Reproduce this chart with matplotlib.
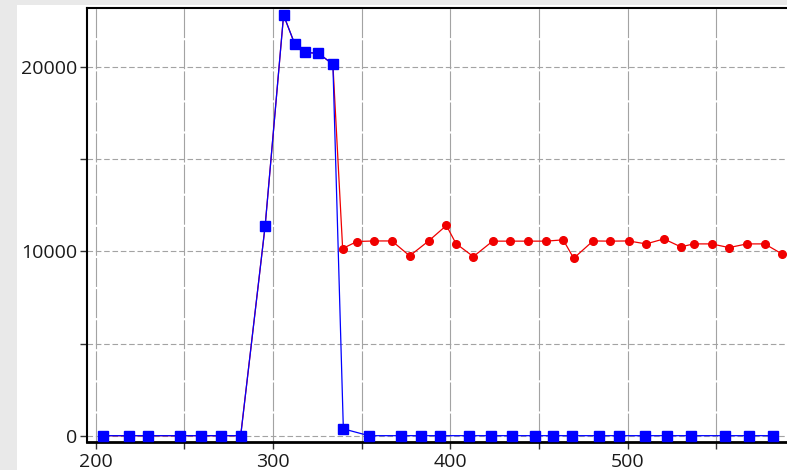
import matplotlib.pyplot as plt
from matplotlib.patches import Rectangle
from matplotlib.ticker import MultipleLocator

plt.rcParams['font.family'] = ['Open Sans', 'DejaVu Sans']

# shared rising part, then the two series split
blue_x = [204.3, 219.0, 229.7, 247.5, 259.2, 270.7, 281.8, 295.6, 306.0, 312.2, 318.0, 325.6, 333.8,
          339.7, 354.1, 372.2, 383.5, 394.2, 410.8, 422.8, 434.6, 447.8, 458.1, 468.8,
          484.0, 495.3, 510.0, 522.0, 535.9, 555.1, 568.5, 582.2]
blue_y = [0, 0, 0, 0, 0, 0, 0, 11390, 22830, 21280, 20800, 20760, 20160,
          370, 0, 0, 0, 0, 0, 0, 0, 0, 0, 0,
          0, 0, 0, 0, 0, 0, 0, 0]

red_x = [204.3, 219.0, 229.7, 247.5, 259.2, 270.7, 281.8, 295.6, 306.0, 312.2, 318.0, 325.6, 333.8,
         339.3, 347.4, 357.1, 367.1, 377.1, 387.8, 397.8, 403.2, 413.0, 423.9, 433.7, 444.0, 454.0,
         463.7, 469.6, 480.5, 490.2, 500.6, 510.4, 520.5, 530.0, 537.3, 547.4, 557.2, 567.3, 577.3, 587.2]
red_y = [0, 0, 0, 0, 0, 0, 0, 11390, 22830, 21280, 20800, 20760, 20160,
         10160, 10540, 10570, 10570, 9760, 10570, 11410, 10430, 9720, 10560, 10560, 10560, 10560,
         10630, 9630, 10570, 10560, 10570, 10410, 10680, 10250, 10410, 10410, 10210, 10410, 10410, 9860]

W, H = 787, 470
fig = plt.figure(figsize=(W / 100, H / 100), dpi=100, facecolor='#e9e9e9')
fig.patches.append(Rectangle((17 / W, 0), 1 - 17 / W, 1 - 5 / H, transform=fig.transFigure,
                             facecolor='white', edgecolor='none', zorder=-10))

ax = fig.add_axes([87.3 / W, (H - 441.7) / H, (W - 87.3) / W, (441.7 - 8.3) / H])
ax.set_xlim(195.3, 589.9)
ax.set_ylim(-327, 23199)

ax.plot(red_x, red_y, '-o', color='#f00000', lw=0.9, ms=5.5, zorder=3)
ax.plot(blue_x, blue_y, '-s', color='#0000ff', lw=0.9, ms=6.5, zorder=4)

ax.xaxis.set_major_locator(MultipleLocator(100))
ax.xaxis.set_minor_locator(MultipleLocator(50))
ax.yaxis.set_major_locator(MultipleLocator(10000))
ax.yaxis.set_minor_locator(MultipleLocator(5000))

ax.xaxis.grid(True, which='both', color='#a3a3a3', lw=0.8, linestyle=(0, (26, 2)))
ax.yaxis.grid(True, which='both', color='#a3a3a3', lw=0.8, linestyle=(0, (5, 2.5)))
ax.set_axisbelow(True)

ax.tick_params(which='both', direction='out', length=5, width=1, color='#333333',
               labelsize=14, labelcolor='#1a1a1a', pad=2)
ax.tick_params(axis='x', pad=3)

ax.spines['right'].set_visible(False)
ax.spines['left'].set_linewidth(1.5)
ax.spines['top'].set_linewidth(1.5)
ax.spines['bottom'].set_linewidth(2)

fig.savefig('out.png', dpi=100, facecolor=fig.get_facecolor())
